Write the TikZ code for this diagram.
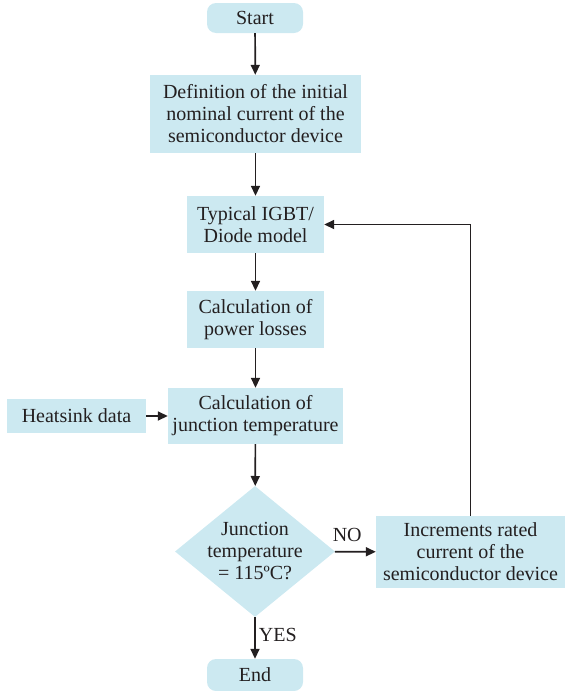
\documentclass[tikz,border=0pt]{standalone}
\usepackage{fontspec}
\setmainfont{Liberation Serif}
\usetikzlibrary{shapes.geometric,arrows.meta}
\definecolor{boxblue}{HTML}{CCE9F1}
\definecolor{ink}{HTML}{231F20}
\begin{document}
\begin{tikzpicture}[x=1pt,y=-1pt,
  every node/.style={font=\fontsize{20}{22}\selectfont, text=ink},
  proc/.style={fill=boxblue, draw=none, align=center, inner sep=0pt},
  term/.style={fill=boxblue, draw=none, rounded corners=9pt, inner sep=0pt},
  dec/.style={fill=boxblue, draw=none, diamond, inner sep=0pt},
  flow/.style={draw=ink, line width=1.7pt, -{Triangle[length=10pt,width=9pt]}},
  lbl/.style={inner sep=0pt}]
\useasboundingbox (0,0) rectangle (565,691);
\node[term, minimum width=96pt, minimum height=30pt] (start) at (255,18) {Start};
\node[proc, minimum width=211pt, minimum height=78pt] (def) at (255.5,114) {Definition of the initial\\nominal current of the\\semiconductor device};
\node[proc, minimum width=137pt, minimum height=57pt] (igbt) at (255.5,224.5) {Typical IGBT/\\Diode model};
\node[proc, minimum width=137pt, minimum height=57pt] (loss) at (255.5,319.5) {Calculation of\\power losses};
\node[proc, minimum width=175pt, minimum height=56pt] (junc) at (255.5,416) {Calculation of\\junction temperature};
\node[proc, minimum width=139pt, minimum height=34pt] (heat) at (76.5,416) {Heatsink data};
\node[dec, minimum width=160pt, minimum height=131pt] (dia) at (255,551.5) {};
\node[align=center, inner sep=0pt] (diatext) at (dia.center) {Junction\\temperature\\= 115ºC?};
\node[proc, minimum width=189pt, minimum height=72pt] (inc) at (470.5,552) {Increments rated\\current of the\\semiconductor device};
\node[term, minimum width=96pt, minimum height=32pt] (end) at (255,675) {End};
\coordinate (corner) at (inc.north |- igbt.east);
\draw[flow] (start) -- (def);
\draw[flow] (def) -- (igbt);
\draw[flow] (igbt) -- (loss);
\draw[flow] (loss) -- (junc);
\draw[flow] (heat) -- (junc);
\draw[flow] (junc) -- (dia);
\draw[flow] (dia) -- node[lbl, above=9pt, pos=0.3] (no) {NO} (inc);
\draw[flow] (dia) -- node[lbl, right=3pt, pos=0.42] (yes) {YES} (end);
\draw[flow] (inc.north) -- (corner) -- (igbt.east);
\end{tikzpicture}
\end{document}
